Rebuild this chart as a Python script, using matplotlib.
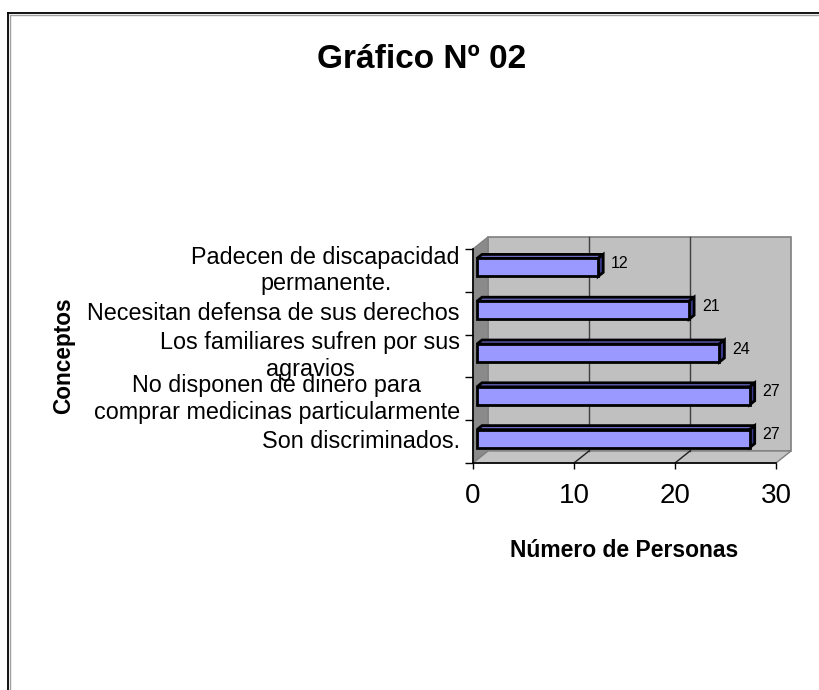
import matplotlib
matplotlib.use("Agg")
import matplotlib.pyplot as plt
from matplotlib.patches import Polygon
from matplotlib.transforms import IdentityTransform
from matplotlib.lines import Line2D

# ---------------- data ----------------
categories = [
    "Padecen de discapacidad\npermanente.",
    "Necesitan defensa de sus derechos",
    "Los familiares sufren por sus\nagravios",
    "No disponen de dinero para\ncomprar medicinas particularmente",
    "Son discriminados.",
]
values = [12, 21, 24, 27, 27]
x_ticks = [0, 10, 20, 30]
title = "Gráfico Nº 02"
xlabel = "Número de Personas"
ylabel = "Conceptos"

# ---------------- style ----------------
plt.rcParams["font.family"] = ["Liberation Sans", "DejaVu Sans"]
W, H = 819, 690
fig = plt.figure(figsize=(W / 100, H / 100), dpi=100)
fig.patch.set_facecolor("white")

# front plane of the 3D box (pixels measured from top-left)
L, R, T, B = 473, 776, 249, 463
ax = fig.add_axes([L / W, 1 - B / H, (R - L) / W, (B - T) / H])
ax.set_xlim(0, 30)
ax.set_ylim(len(categories) - 0.5, -0.5)
ax.patch.set_visible(False)

DX, DY = 15, 12          # depth of the 3D box in pixels
D1 = (4, 3)              # bar front face offset
D2 = (9, 7)              # bar back face offset
BAR_H = 0.42

ident = IdentityTransform()


def P(x, y, ox=0.0, oy=0.0):
    px, py = ax.transData.transform((x, y))
    return (px + ox, py + oy)


def poly(pts, fc, ec, lw, z):
    p = Polygon(pts, closed=True, facecolor=fc, edgecolor=ec, linewidth=lw,
                transform=ident, clip_on=False, zorder=z, joinstyle="miter")
    ax.add_patch(p)


ymin, ymax = -0.5, len(categories) - 0.5
xmax = x_ticks[-1]

# back wall
poly([P(0, ymax, DX, DY), P(xmax, ymax, DX, DY), P(xmax, ymin, DX, DY), P(0, ymin, DX, DY)],
     "#C0C0C0", "#808080", 1.2, 0.5)
# left wall
poly([P(0, ymin), P(0, ymin, DX, DY), P(0, ymax, DX, DY), P(0, ymax)],
     "#8A8A8A", "#808080", 1.0, 0.6)
# floor
poly([P(0, ymax), P(0, ymax, DX, DY), P(xmax, ymax, DX, DY), P(xmax, ymax)],
     "#C4C4C4", "#808080", 1.0, 0.6)

# gridlines on back wall + floor diagonals
for xt in x_ticks[1:-1]:
    a = P(xt, ymax, DX, DY)
    b = P(xt, ymin, DX, DY)
    ax.add_line(Line2D([a[0], b[0]], [a[1], b[1]], color="#404040", lw=1.0,
                       transform=ident, clip_on=False, zorder=0.7))
    c = P(xt, ymax)
    ax.add_line(Line2D([c[0], a[0]], [c[1], a[1]], color="#202020", lw=1.0,
                       transform=ident, clip_on=False, zorder=0.7))

# 3D bars
for i, v in enumerate(values):
    y0 = i - BAR_H / 2   # upper edge (axis inverted)
    y1 = i + BAR_H / 2   # lower edge
    front = [P(0, y1, *D1), P(v, y1, *D1), P(v, y0, *D1), P(0, y0, *D1)]
    top = [P(0, y0, *D1), P(v, y0, *D1), P(v, y0, *D2), P(0, y0, *D2)]
    side = [P(v, y1, *D1), P(v, y0, *D1), P(v, y0, *D2), P(v, y1, *D2)]
    poly(top, "#6B6BC8", "black", 2.0, 2)
    poly(side, "#3A3A8C", "black", 2.0, 2)
    poly(front, "#9999FF", "black", 2.0, 2.1)
    ax.annotate(str(v), xy=(v, i), xytext=(17, 7), textcoords="offset pixels",
                ha="left", va="center", fontsize=11.5, color="black", zorder=3)

# axes / ticks
for s in ("top", "right"):
    ax.spines[s].set_visible(False)
for s in ("left", "bottom"):
    ax.spines[s].set_color("black")
    ax.spines[s].set_linewidth(1.2)
    ax.spines[s].set_zorder(2.5)

ax.set_xticks(x_ticks)
ax.set_xticklabels([str(t) for t in x_ticks])
ax.tick_params(axis="x", direction="out", length=4.5, width=1, labelsize=20, pad=10)

ax.set_yticks(range(len(categories)))
ax.set_yticklabels(categories)
ax.set_yticks([k - 0.5 for k in range(len(categories) + 1)], minor=True)
ax.tick_params(axis="y", which="major", length=0, labelsize=16.8, pad=9.4)
ax.tick_params(axis="y", which="minor", direction="out", length=5.8, width=1)
for lbl in ax.get_yticklabels():
    lbl.set_multialignment("center")
    lbl.set_verticalalignment("center")

# texts
fig.text(422 / W, 1 - 68 / H, title, ha="center", va="baseline",
         fontsize=24, fontweight="bold")
fig.text(624.5 / W, 1 - 557 / H, xlabel, ha="center", va="baseline",
         fontsize=16.5, fontweight="bold")
fig.text(64 / W, 1 - 356 / H, ylabel, ha="center", va="center", rotation=90,
         fontsize=16.3, fontweight="bold")

# frame around the chart area
fig.add_artist(Line2D([8 / W, 1.0], [1 - 13 / H, 1 - 13 / H], color="black",
                      lw=1.3, transform=fig.transFigure))
fig.add_artist(Line2D([8 / W, 8 / W], [1 - 13 / H, 0.0], color="black",
                      lw=1.3, transform=fig.transFigure))
fig.add_artist(Line2D([9.5 / W, 1.0], [1 - 14.5 / H, 1 - 14.5 / H], color="#A0A0A0",
                      lw=1.0, transform=fig.transFigure))
fig.add_artist(Line2D([9.5 / W, 9.5 / W], [1 - 14.5 / H, 0.0], color="#A0A0A0",
                      lw=1.0, transform=fig.transFigure))

fig.savefig("out.png", dpi=100)
